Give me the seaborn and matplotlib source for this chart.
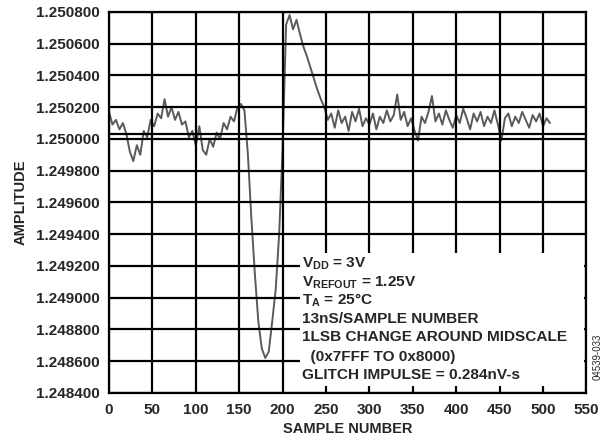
import numpy as np
import pandas as pd
import matplotlib
import matplotlib.pyplot as plt
import seaborn as sns
from matplotlib.patches import Rectangle

matplotlib.use('Agg')

# sample numbers (every 4th sample of the 512-sample capture)
samples = np.arange(0, 512, 4)

# amplitude
amp_start = [1.25017, 1.25009, 1.25012, 1.25006, 1.25010, 1.25003, 1.24992, 1.24986,
             1.24996, 1.24990, 1.25005, 1.25001, 1.25012, 1.25008, 1.25016, 1.25013,
             1.25025, 1.25014, 1.25020, 1.25012, 1.25017, 1.25009, 1.25011, 1.25001,
             1.25005, 1.24996]
amp_pre = [1.25008, 1.24993, 1.24990, 1.25000, 1.24995, 1.25004, 1.25000, 1.25010,
           1.25006, 1.25014, 1.25011, 1.25020, 1.25022, 1.25018]
amp_dip = [1.24990, 1.24950, 1.24915, 1.24885, 1.24868, 1.24862, 1.24866, 1.24885,
           1.24905, 1.24940, 1.24995]
amp_peak = [1.25072, 1.25078, 1.25069, 1.25075, 1.25066, 1.25058, 1.25052, 1.25045,
            1.25038, 1.25031, 1.25025, 1.25020, 1.25012]
amp_settle = [1.25016, 1.25007, 1.25018, 1.25010, 1.25014, 1.25005, 1.25017, 1.25011,
              1.25019, 1.25008, 1.25013, 1.25009, 1.25016, 1.25006, 1.25014, 1.25010,
              1.25018, 1.25011, 1.25015, 1.25028, 1.25012, 1.25017, 1.25008, 1.25013,
              1.25005, 1.24999, 1.25014, 1.25010, 1.25017, 1.25027, 1.25011, 1.25016,
              1.25009, 1.25018, 1.25012, 1.25007, 1.25015, 1.25010, 1.25019, 1.25013,
              1.25006, 1.25016, 1.25011, 1.25017, 1.25008, 1.25014, 1.25010, 1.25018,
              1.25009, 1.24999, 1.25013, 1.25016, 1.25008, 1.25014, 1.25010, 1.25017,
              1.25012, 1.25007, 1.25015, 1.25011, 1.25016, 1.25008, 1.25013, 1.25010]
amplitude = amp_start + amp_pre + amp_dip + amp_peak + amp_settle

x_ticks = [0, 50, 100, 150, 200, 250, 300, 350, 400, 450, 500, 550]
y_ticks = [1.2484, 1.2486, 1.2488, 1.2490, 1.2492, 1.2494, 1.2496,
           1.2498, 1.2500, 1.2502, 1.2504, 1.2506, 1.2508]
ref_level = 1.250031

notes = [r'$V_{DD}$ = 3V',
         r'$V_{REFOUT}$ = 1.25V',
         r'$T_{A}$ = 25°C',
         '13nS/SAMPLE NUMBER',
         '1LSB CHANGE AROUND MIDSCALE',
         '  (0x7FFF TO 0x8000)',
         'GLITCH IMPULSE = 0.284nV-s']

sns.set_style('white')
plt.rcParams['font.family'] = ['Liberation Sans', 'DejaVu Sans']
plt.rcParams['font.weight'] = 'bold'
plt.rcParams['mathtext.fontset'] = 'custom'
plt.rcParams['mathtext.rm'] = 'Liberation Sans:bold'
plt.rcParams['mathtext.it'] = 'Liberation Sans:bold'
plt.rcParams['mathtext.bf'] = 'Liberation Sans:bold'

df = pd.DataFrame({'sample': samples, 'amplitude': amplitude})

fig = plt.figure(figsize=(6.09, 4.40), dpi=100)
ax = fig.add_axes([0.179, 0.107, 0.784, 0.866])

sns.lineplot(data=df, x='sample', y='amplitude', ax=ax, color='#5a5a5a',
             linewidth=1.4, zorder=1)

ax.set_xlim(0, 550)
ax.set_ylim(1.2484, 1.2508)
ax.set_xticks(x_ticks)
ax.set_yticks(y_ticks)
ax.set_yticklabels([f'{v:.6f}' for v in y_ticks])
ax.tick_params(length=0, labelsize=11, pad=7)
for lab in ax.get_xticklabels() + ax.get_yticklabels():
    lab.set_fontweight('bold')

ax.grid(True, color='black', linewidth=1.6)
ax.set_axisbelow(False)
for gl in ax.get_xgridlines() + ax.get_ygridlines():
    gl.set_zorder(2)
ax.axhline(ref_level, color='black', linewidth=1.6, zorder=2)
for sp in ax.spines.values():
    sp.set_linewidth(1.6)
    sp.set_color('black')
    sp.set_zorder(3)

ax.set_xlabel('SAMPLE NUMBER', fontsize=10.5, fontweight='bold', labelpad=4)
ax.set_ylabel('AMPLITUDE', fontsize=10.5, fontweight='bold', labelpad=6)

# white box for the test conditions
ax.add_patch(Rectangle((0.40, 0.018), 0.594, 0.349, transform=ax.transAxes,
                       facecolor='white', edgecolor='none', zorder=4))
note_y = [0.338, 0.289, 0.242, 0.194, 0.147, 0.094, 0.047]
for txt, yy in zip(notes, note_y):
    ax.text(0.405, yy, txt, transform=ax.transAxes, fontsize=11.1,
            fontweight='bold', va='center', ha='left', zorder=5)

fig.text(0.982, 0.19, '04539-033', rotation=90, fontsize=7,
         fontweight='normal', ha='center', va='center')

fig.savefig('out.png', dpi=100)
